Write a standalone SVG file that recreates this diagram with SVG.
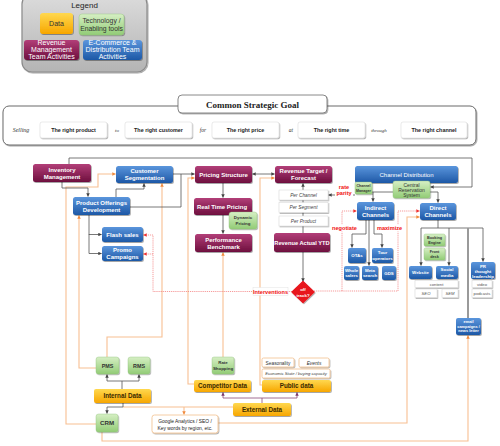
<svg xmlns="http://www.w3.org/2000/svg" width="500" height="446" viewBox="0 0 500 446">
<defs>
<linearGradient id="gM" x1="0" y1="0" x2="0" y2="1"><stop offset="0" stop-color="#b23e78"/><stop offset="1" stop-color="#6e0f3e"/></linearGradient>
<linearGradient id="gB" x1="0" y1="0" x2="0" y2="1"><stop offset="0" stop-color="#5a95dc"/><stop offset="1" stop-color="#1d58a6"/></linearGradient>
<linearGradient id="gG" x1="0" y1="0" x2="0" y2="1"><stop offset="0" stop-color="#d6efc4"/><stop offset="1" stop-color="#92cc76"/></linearGradient>
<linearGradient id="gO" x1="0" y1="0" x2="0" y2="1"><stop offset="0" stop-color="#ffd84f"/><stop offset="1" stop-color="#f7a600"/></linearGradient>
<linearGradient id="gL" x1="0" y1="0" x2="0" y2="1"><stop offset="0" stop-color="#dcdcdc"/><stop offset="1" stop-color="#b4b4b4"/></linearGradient>
<filter id="sh" x="-20%" y="-20%" width="150%" height="170%"><feDropShadow dx="0.8" dy="1" stdDeviation="0.6" flood-color="#000" flood-opacity="0.35"/></filter>
<marker id="ag" viewBox="0 0 6 6" refX="5.5" refY="3" markerWidth="3.5" markerHeight="3.5" orient="auto-start-reverse" markerUnits="userSpaceOnUse"><path d="M0,0 L6,3 L0,6 z" fill="#444"/></marker>
<marker id="ao" viewBox="0 0 6 6" refX="5.5" refY="3" markerWidth="3.5" markerHeight="3.5" orient="auto" markerUnits="userSpaceOnUse"><path d="M0,0 L6,3 L0,6 z" fill="#f08a3c"/></marker>
<marker id="ar" viewBox="0 0 6 6" refX="5.5" refY="3" markerWidth="3.5" markerHeight="3.5" orient="auto" markerUnits="userSpaceOnUse"><path d="M0,0 L6,3 L0,6 z" fill="#f03030"/></marker>
<marker id="ap" viewBox="0 0 6 6" refX="5.5" refY="3" markerWidth="3.5" markerHeight="3.5" orient="auto" markerUnits="userSpaceOnUse"><path d="M0,0 L6,3 L0,6 z" fill="#7a3a6a"/></marker>
</defs>
<style>
.mr{fill:url(#gM);filter:url(#sh)}
.bl{fill:url(#gB);filter:url(#sh)}
.gr{fill:url(#gG);stroke:#8fbf78;stroke-width:0.4;filter:url(#sh)}
.or{fill:url(#gO);filter:url(#sh)}
.wb{fill:#fff;stroke:#d4d4d4;stroke-width:0.5;filter:url(#sh)}
.ob{fill:#fff;stroke:#f2c08e;stroke-width:0.8;filter:url(#sh)}
text{font-family:"Liberation Sans",Arial,sans-serif;text-anchor:middle}
.tw{font-size:6px;font-weight:bold;fill:#fff}
.ts{font-size:4.4px;font-weight:bold;fill:#fff}
.tg{font-size:4.4px;font-weight:bold;fill:#333}
.to{font-size:6.3px;font-weight:bold;fill:#3a2a00}
.ti{font-size:4.8px;font-style:italic;fill:#444}
.tr{font-size:5.6px;fill:#f01010;font-weight:bold}
.tl{font-size:7px;fill:#fff}
.ln{fill:none;stroke:#555;stroke-width:0.8}
.ol{fill:none;stroke:#f7bf92;stroke-width:1.1}
.rd{fill:none;stroke:#f27070;stroke-width:0.7;stroke-dasharray:1.2 0.9}
.pl{fill:none;stroke:#8a4a7a;stroke-width:0.8}
</style>

<g id="legend">
<rect x="22" y="-6" width="125" height="78" rx="10" fill="url(#gL)" stroke="#8a8a8a" stroke-width="1.2" filter="url(#sh)"/>
<text x="84.5" y="8" style="font-size:8px;fill:#222">Legend</text>
<rect class="or" x="40" y="13" width="33" height="21" rx="3"/>
<text x="56.5" y="26" style="font-size:7px;fill:#333">Data</text>
<rect class="gr" x="79" y="14" width="45" height="21" rx="3"/>
<text x="101.5" y="23" style="font-size:6.8px;fill:#333">Technology /</text>
<text x="101.5" y="30.5" style="font-size:6.8px;fill:#333">Enabling tools</text>
<rect class="mr" x="24" y="40" width="55" height="20" rx="3"/>
<text class="tl" x="51.5" y="45">Revenue</text>
<text class="tl" x="51.5" y="51.8">Management</text>
<text class="tl" x="51.5" y="58.6">Team Activities</text>
<rect class="bl" x="83" y="40" width="59" height="20" rx="3"/>
<text class="tl" x="112.5" y="45">E-Commerce &amp;</text>
<text class="tl" x="112.5" y="51.8">Distribution Team</text>
<text class="tl" x="112.5" y="58.6">Activities</text>
</g>

<g id="goal">
<rect x="3" y="106" width="473" height="39" rx="6" fill="#fff" stroke="#6a6a6a" stroke-width="1" filter="url(#sh)"/>
<rect x="178" y="95" width="149" height="18" rx="4" fill="#fff" stroke="#6a6a6a" stroke-width="0.8" filter="url(#sh)"/>
<text x="252.5" y="107.5" style="font-family:'Liberation Serif','Times New Roman',serif;font-size:9px;font-weight:bold;fill:#222">Common Strategic Goal</text>
<rect class="wb" x="40" y="122" width="67" height="16" rx="2"/>
<rect class="wb" x="125" y="122" width="67" height="16" rx="2"/>
<rect class="wb" x="212" y="122" width="67" height="16" rx="2"/>
<rect class="wb" x="298" y="122" width="67" height="16" rx="2"/>
<rect class="wb" x="401" y="122" width="66" height="16" rx="2"/>
<text x="73.5" y="132" style="font-size:5.4px;font-weight:bold;fill:#222">The right product</text>
<text x="158.5" y="132" style="font-size:5.4px;font-weight:bold;fill:#222">The right customer</text>
<text x="245.5" y="132" style="font-size:5.4px;font-weight:bold;fill:#222">The right price</text>
<text x="331.5" y="132" style="font-size:5.4px;font-weight:bold;fill:#222">The right time</text>
<text x="434" y="132" style="font-size:5.4px;font-weight:bold;fill:#222">The right channel</text>
<text x="21" y="132" style="font-family:'Liberation Serif',serif;font-style:italic;font-size:6px;fill:#333">Selling</text>
<text x="117" y="132" style="font-family:'Liberation Serif',serif;font-style:italic;font-size:5px;fill:#333">to</text>
<text x="203" y="132" style="font-family:'Liberation Serif',serif;font-style:italic;font-size:5.5px;fill:#333">for</text>
<text x="291" y="132" style="font-family:'Liberation Serif',serif;font-style:italic;font-size:5.5px;fill:#333">at</text>
<text x="379" y="132" style="font-family:'Liberation Serif',serif;font-style:italic;font-size:5px;fill:#333">through</text>
</g>

<g id="connectors">
<path class="ol" d="M96,424 H66 V187 H98 V174 H115.5" marker-end="url(#ao)"/>
<path class="ol" d="M96,368 H79 V215.5" marker-end="url(#ao)"/>
<path class="ol" d="M107,357 V337 H162 V183.5" marker-end="url(#ao)"/>
<path class="ol" d="M194,384 H188 V178 H194.5" marker-end="url(#ao)"/>
<path class="ol" d="M223,357 V252.5" marker-end="url(#ao)"/>
<path class="ol" d="M262,385 H260 V178 H274.5" marker-end="url(#ao)"/>
<path class="ol" d="M123,407 H233"/>
<path class="ol" d="M184,407 V414.5" marker-end="url(#ao)"/>
<path class="ol" d="M218,423 H407 V217 H419.5" marker-end="url(#ao)"/>
<path class="ol" d="M102,432 V441 H468 V335.5" marker-end="url(#ao)"/>
<path class="ln" d="M69,164 V158 H472 V187 H430.5" marker-end="url(#ag)"/>
<path class="ln" d="M62,182 V188 H88 V196.5" marker-end="url(#ag)"/>
<path class="ln" d="M116,197 V189 H144 V183.5" marker-end="url(#ag)"/>
<path class="ln" d="M173,174 H181 V207 H130"/>
<path class="ln" d="M181,174 H194.5" marker-end="url(#ag)"/>
<path class="ln" d="M252.5,174 H274.5" marker-start="url(#ag)" marker-end="url(#ag)"/>
<path class="ln" d="M223,183 V197.5" marker-end="url(#ag)"/>
<path class="ln" d="M223,215 V233.5" marker-end="url(#ag)"/>
<path class="ln" d="M303,233 V183.5" marker-end="url(#ag)"/>
<path class="ln" d="M303,252 V281.5" marker-end="url(#ag)"/>
<path class="ln" d="M89,215 V234.5 H101.5" marker-end="url(#ag)"/>
<path class="ln" d="M89,234 V253.5 H101.5" marker-end="url(#ag)"/>
<path class="ln" d="M355,195 H328.5" marker-end="url(#ag)"/>
<path class="ln" d="M372,192 H438 V202.5" marker-end="url(#ag)"/>
<path class="ln" d="M373,192 V201.5" marker-end="url(#ag)"/>
<path class="ln" d="M366,220 V234 H352 V247.5" marker-end="url(#ag)"/>
<path class="ln" d="M369,220 V265.5" marker-end="url(#ag)"/>
<path class="ln" d="M374,220 V234 H382 V247.5" marker-end="url(#ag)"/>
<path class="ln" d="M438,220 V228 M421,228 H483"/>
<path class="ln" d="M421,228 V265.5" marker-end="url(#ag)"/>
<path class="ln" d="M449,228 V265.5" marker-end="url(#ag)"/>
<path class="ln" d="M483,228 V261.5" marker-end="url(#ag)"/>
<path d="M468,228 V318" fill="none" stroke="#9a9a9a" stroke-width="2"/>
<path class="ln" d="M122,389 V381 M107,381 H139"/>
<path class="ln" d="M107,381 V374.5" marker-end="url(#ag)"/>
<path class="ln" d="M139,381 V374.5" marker-end="url(#ag)"/>
<path class="ln" d="M123,403 V407 H107 V413.5" marker-end="url(#ag)"/>
<path class="pl" d="M262,403 V398 M223,398 H297"/>
<path class="pl" d="M223,398 V392.5" marker-end="url(#ap)"/>
<path class="pl" d="M297,398 V392.5" marker-end="url(#ap)"/>
<path class="rd" d="M292,291.5 H153 V235 H143.5" marker-end="url(#ar)"/>
<path class="rd" d="M153,254 H143.5" marker-end="url(#ar)"/>
<path class="rd" d="M314,291 H398 V211 H419.5" marker-end="url(#ar)"/>
<path class="rd" d="M342,291 V211 H356.5" marker-end="url(#ar)"/>
<rect x="335" y="184" width="18" height="12" fill="#fff"/>
<text class="tr" x="344" y="189">rate</text>
<text class="tr" x="344" y="195">parity</text>
<rect x="332" y="224.5" width="25" height="7" fill="#fff"/>
<text class="tr" x="344.5" y="230">negotiate</text>
<rect x="377" y="224.5" width="25" height="7" fill="#fff"/>
<text class="tr" x="389.5" y="230">maximize</text>
<rect x="253" y="287.5" width="35" height="8" fill="#fff" stroke="#ddd" stroke-width="0.4"/>
<text class="tr" x="270.5" y="293.5">Interventions</text>
</g>

<g id="inventory"><rect class="mr" x="33" y="164" width="58" height="18" rx="2.5"/><text class="tw" x="62" y="171.5">Inventory</text><text class="tw" x="62" y="178.5">Management</text></g>
<g id="customer-seg"><rect class="bl" x="116" y="166" width="57" height="17" rx="2.5"/><text class="tw" x="144.5" y="173">Customer</text><text class="tw" x="144.5" y="180">Segmentation</text></g>
<g id="product-offerings"><rect class="bl" x="73" y="197" width="57" height="18" rx="2.5"/><text class="tw" x="101.5" y="204.5">Product Offerings</text><text class="tw" x="101.5" y="211.5">Development</text></g>
<g id="flash-sales"><rect class="bl" x="102" y="227" width="41" height="15" rx="2.5"/><text class="tw" x="122.5" y="236.5">Flash sales</text></g>
<g id="promo"><rect class="bl" x="102" y="246" width="41" height="15" rx="2.5"/><text class="tw" x="122.5" y="252.3">Promo</text><text class="tw" x="122.5" y="258.8">Campaigns</text></g>
<g id="pricing-structure"><rect class="mr" x="195" y="166" width="57" height="17" rx="2.5"/><text class="tw" x="223.5" y="176.5">Pricing Structure</text></g>
<g id="revenue-target"><rect class="mr" x="275" y="166" width="57" height="17" rx="2.5"/><text class="tw" x="303.5" y="173">Revenue Target /</text><text class="tw" x="303.5" y="180">Forecast</text></g>
<g id="real-time-pricing"><rect class="mr" x="194" y="198" width="58" height="17" rx="2.5"/><text class="tw" x="222" y="208.5">Real Time Pricing</text></g>
<g id="dynamic-pricing"><rect class="gr" x="229" y="212" width="28" height="17" rx="2.5"/><text class="tg" x="243" y="219.2">Dynamic</text><text class="tg" x="243" y="225">Pricing</text></g>
<g id="performance"><rect class="mr" x="195" y="234" width="57" height="18" rx="2.5"/><text class="tw" x="223.5" y="241.5">Performance</text><text class="tw" x="223.5" y="248.5">Benchmark</text></g>
<g id="per-channel"><rect class="wb" x="279" y="190" width="49" height="10"/><text class="ti" x="303.5" y="196.8">Per Channel</text></g>
<g id="per-segment"><rect class="wb" x="279" y="202.5" width="49" height="10"/><text class="ti" x="303.5" y="209.3">Per Segment</text></g>
<g id="per-product"><rect class="wb" x="279" y="216" width="49" height="10"/><text class="ti" x="303.5" y="222.8">Per Product</text></g>
<g id="revenue-actual"><rect class="mr" x="274" y="233" width="56" height="19" rx="2.5"/><text class="tw" x="302" y="244.5" style="font-size:5.7px">Revenue Actual YTD</text></g>
<g id="off-track"><path d="M303,281.5 L314,292 L303,302.5 L292,292 Z" fill="#e8141c" stroke="#e8141c" stroke-width="1.2" stroke-linejoin="round" filter="url(#sh)"/><text class="ts" x="303" y="291">off</text><text class="ts" x="303" y="296.5">track?</text></g>
<g id="channel-distribution"><rect class="bl" x="355" y="166" width="103" height="17" rx="2.5"/><text x="406.5" y="176.5" style="font-size:6px;fill:#fff">Channel Distribution</text></g>
<g id="channel-manager"><rect class="gr" x="355" y="182" width="17" height="12" rx="1.5"/><text x="363.5" y="187" style="font-size:3.6px;font-weight:bold;fill:#333">Channel</text><text x="363.5" y="191.5" style="font-size:3.6px;font-weight:bold;fill:#333">Manager</text></g>
<g id="crs"><rect class="gr" x="393" y="181" width="37" height="17" rx="2"/><text x="411.5" y="186.5" style="font-size:5px;fill:#333">Central</text><text x="411.5" y="191.5" style="font-size:5px;fill:#333">Reservation</text><text x="411.5" y="196.5" style="font-size:5px;fill:#333">System</text></g>
<g id="indirect"><rect class="bl" x="357" y="202" width="37" height="18" rx="2.5"/><text class="tw" x="375.5" y="209.5">Indirect</text><text class="tw" x="375.5" y="216.5">Channels</text></g>
<g id="direct"><rect class="bl" x="420" y="203" width="36" height="17" rx="2.5"/><text class="tw" x="438" y="210">Direct</text><text class="tw" x="438" y="217">Channels</text></g>
<g id="otas"><rect class="bl" x="348" y="248" width="18" height="15" rx="2"/><text class="ts" x="357" y="257.3">OTAs</text></g>
<g id="tour-operators"><rect class="bl" x="372" y="248" width="21" height="15" rx="2"/><text class="ts" x="382.5" y="254.3">Tour</text><text class="ts" x="382.5" y="259.5">operators</text></g>
<g id="wholesalers"><rect class="bl" x="344" y="266" width="15" height="14" rx="2"/><text class="ts" x="351.5" y="272">Whole</text><text class="ts" x="351.5" y="277">salers</text></g>
<g id="meta-search"><rect class="bl" x="362" y="266" width="16" height="14" rx="2"/><text class="ts" x="370" y="272">Meta</text><text class="ts" x="370" y="277">search</text></g>
<g id="gds"><rect class="bl" x="382" y="266" width="14" height="14" rx="2"/><text class="ts" x="389" y="274.5">GDS</text></g>
<g id="booking-engine"><rect class="gr" x="424" y="234" width="21" height="12" rx="1.5"/><text x="434.5" y="239.2" style="font-size:3.8px;font-weight:bold;fill:#333">Booking</text><text x="434.5" y="243.6" style="font-size:3.8px;font-weight:bold;fill:#333">Engine</text></g>
<g id="front-desk"><rect class="gr" x="424" y="248" width="21" height="12" rx="1.5"/><text x="434.5" y="253.2" style="font-size:3.8px;font-weight:bold;fill:#333">Front</text><text x="434.5" y="257.6" style="font-size:3.8px;font-weight:bold;fill:#333">desk</text></g>
<g id="website"><rect class="bl" x="409" y="266" width="23" height="13" rx="2"/><text class="ts" x="420.5" y="274">Website</text></g>
<g id="social-media"><rect class="bl" x="436" y="266" width="22" height="13" rx="2"/><text class="ts" x="447" y="271.3">Social</text><text class="ts" x="447" y="276.5">media</text></g>
<g id="pr"><rect class="bl" x="471" y="262" width="24" height="17" rx="2"/><text class="ts" x="483" y="267.5">PR</text><text class="ts" x="483" y="272.5">thought</text><text class="ts" x="483" y="277.5">leadership</text></g>
<g id="content"><rect class="wb" x="415" y="280.5" width="43" height="7"/><text x="436.5" y="285.6" style="font-size:4.2px;fill:#555">content</text></g>
<g id="seo"><rect class="wb" x="415" y="289" width="22" height="8.5"/><text x="426" y="294.8" style="font-size:4.2px;font-style:italic;fill:#555">SEO</text></g>
<g id="sem"><rect class="wb" x="442" y="289" width="16" height="8.5"/><text x="450" y="294.8" style="font-size:4.2px;font-style:italic;fill:#555">SEM</text></g>
<g id="video"><rect class="wb" x="472" y="280.5" width="20" height="7"/><text x="482" y="285.6" style="font-size:4.2px;fill:#555">video</text></g>
<g id="podcasts"><rect class="wb" x="472" y="289" width="20" height="8.5"/><text x="482" y="294.8" style="font-size:4.2px;fill:#555">podcasts</text></g>
<g id="email"><rect class="bl" x="456" y="318" width="25" height="17" rx="2"/><text class="ts" x="468.5" y="323.2" style="font-size:3.9px">email</text><text class="ts" x="468.5" y="327.8" style="font-size:3.9px">campaigns /</text><text class="ts" x="468.5" y="332.4" style="font-size:3.9px">news letter</text></g>
<g id="rate-shopping"><rect class="gr" x="212" y="357" width="22" height="17" rx="2"/><text class="tg" x="223" y="364">Rate</text><text class="tg" x="223" y="369.8">Shopping</text></g>
<g id="competitor-data"><rect class="or" x="194" y="380" width="57" height="12" rx="2"/><text class="to" x="222.5" y="388.3">Competitor Data</text></g>
<g id="seasonality"><rect class="ob" x="262" y="358" width="32" height="9" rx="1.5"/><text x="278" y="364.6" style="font-size:4.8px;fill:#333">Seasonality</text></g>
<g id="events"><rect class="ob" x="299" y="358" width="30" height="9" rx="1.5"/><text x="314" y="364.6" style="font-size:4.8px;font-style:italic;fill:#333">Events</text></g>
<g id="economic"><rect class="ob" x="262" y="369" width="68" height="9" rx="1.5"/><text x="296" y="375.3" style="font-size:4.2px;font-style:italic;fill:#444">Economic State / buying capacity</text></g>
<g id="public-data"><rect class="or" x="262" y="380" width="69" height="12" rx="2"/><text class="to" x="296.5" y="388.3">Public data</text></g>
<g id="external-data"><rect class="or" x="233" y="403" width="58" height="13" rx="2"/><text class="to" x="262" y="411.8">External Data</text></g>
<g id="pms"><rect class="gr" x="96" y="357" width="23" height="17" rx="2.5"/><text class="tg" x="107.5" y="367.5" style="font-size:5.4px">PMS</text></g>
<g id="rms"><rect class="gr" x="128" y="357" width="22" height="17" rx="2.5"/><text class="tg" x="139" y="367.5" style="font-size:5.4px">RMS</text></g>
<g id="internal-data"><rect class="or" x="94" y="389" width="57" height="14" rx="2"/><text class="to" x="122.5" y="398.3">Internal Data</text></g>
<g id="crm"><rect class="gr" x="96" y="414" width="22" height="18" rx="2.5"/><text class="tg" x="107" y="425" style="font-size:6.2px">CRM</text></g>
<g id="google-analytics"><rect class="ob" x="152" y="415" width="66" height="18" rx="2.5"/><text x="185" y="422.5" style="font-size:4.9px;fill:#222">Google Analytics / SEO /</text><text x="185" y="429.5" style="font-size:4.9px;fill:#222">Key words by region, etc.</text></g>
</svg>
